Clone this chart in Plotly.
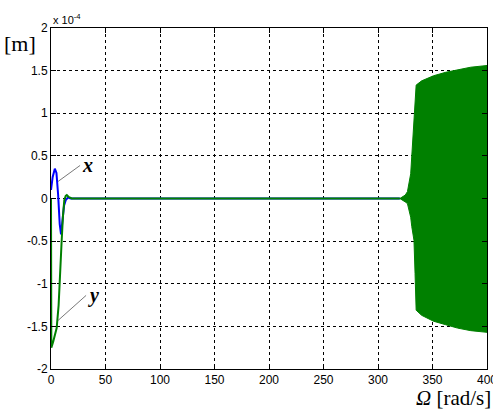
import plotly.graph_objects as go

# values in units of 1e-4 m
omega_x = [0, 1.5, 3.5, 5, 6.5, 8, 9.2, 10.5, 12, 13.5, 15.5, 18, 22, 30, 50, 100, 200, 300, 320]
x_resp = [0.10, 0.25, 0.35, 0.30, 0.05, -0.30, -0.42, -0.25, -0.08, -0.02, 0.01, 0.0, 0.0, 0.0, 0.0, 0.0, 0.0, 0.0, 0.0]

omega_y = [0, 0.3, 2, 4, 5.2, 7, 8.3, 9.8, 11, 12.2, 13.5, 14.5, 16, 19, 25, 50, 100, 200, 300, 320]
y_resp = [0.0, -1.75, -1.68, -1.58, -1.52, -1.25, -0.96, -0.49, -0.2, -0.02, 0.03, 0.04, 0.02, 0.0, 0.0, 0.0, 0.0, 0.0, 0.0, 0.0]

omega_env = [320, 323, 325, 327, 329, 330, 331, 332, 333, 334, 335, 340, 351, 362, 373, 385, 400]
env_upper = [0.0, 0.02, 0.04, 0.08, 0.2, 0.29, 0.5, 0.7, 0.92, 1.15, 1.33, 1.38, 1.44, 1.48, 1.51, 1.54, 1.56]
env_lower = [0.0, -0.02, -0.04, -0.06, -0.15, -0.22, -0.33, -0.42, -0.49, -0.88, -1.31, -1.37, -1.44, -1.48, -1.52, -1.55, -1.57]

x_ticks = [0, 50, 100, 150, 200, 250, 300, 350, 400]
x_tick_text = ["0", "50", "100", "150", "200", "250", "300", "350", ""]
y_ticks = [-2, -1.5, -1, -0.5, 0, 0.5, 1, 1.5, 2]
y_tick_text = ["-2", "-1.5", "-1", "-0.5", "0", "0.5", "1", "1.5", "2"]

green = "#008000"
blue = "#0000FF"
tick_font = dict(family="Arial, Liberation Sans", size=12, color="black")
serif = "Liberation Serif, Times New Roman"

fig = go.Figure()
fig.add_trace(go.Scatter(x=omega_x, y=x_resp, mode="lines", line=dict(color=blue, width=2), showlegend=False))
fig.add_trace(go.Scatter(x=omega_y, y=y_resp, mode="lines", line=dict(color=green, width=2), showlegend=False))
fig.add_trace(go.Scatter(x=omega_env, y=env_lower, mode="lines", line=dict(color=green, width=1), showlegend=False))
fig.add_trace(go.Scatter(x=omega_env, y=env_upper, mode="lines", line=dict(color=green, width=1),
                         fill="tonexty", fillcolor=green, showlegend=False))

axis_common = dict(showline=True, linecolor="black", linewidth=1, mirror="allticks",
                   ticks="inside", ticklen=5, tickcolor="black",
                   showgrid=True, gridcolor="black", gridwidth=1, griddash="3px,3px",
                   zeroline=False, tickfont=tick_font)

fig.update_xaxes(range=[0, 400], tickvals=x_ticks, ticktext=x_tick_text, **axis_common)
fig.update_yaxes(range=[-2, 2], tickvals=y_ticks, ticktext=y_tick_text, **axis_common)

fig.update_layout(
    width=493, height=413,
    margin=dict(l=51, r=6, t=28, b=44),
    plot_bgcolor="white", paper_bgcolor="white",
    annotations=[
        dict(text="[m]", x=-0.07, y=0.955, xref="paper", yref="paper", xanchor="center", yanchor="middle",
             showarrow=False, font=dict(family=serif, size=22, color="black")),
        dict(text="x 10<sup>-4</sup>", x=0.0, y=1.0, xref="paper", yref="paper", xanchor="left", yanchor="bottom",
             showarrow=False, font=dict(family="Arial, Liberation Sans", size=11, color="black")),
        dict(text=str(x_ticks[-1]), x=x_ticks[-1], y=0, xref="x", yref="paper", xanchor="center", yanchor="top",
             yshift=-2, showarrow=False, font=tick_font),
        dict(text="<i>Ω</i> [rad/s]", x=1.0, y=0, xref="paper", yref="paper", xanchor="right", yanchor="top",
             xshift=6, yshift=-15, showarrow=False,
             font=dict(family=serif, size=21, color="black")),
        dict(text="<b><i>x</i></b>", x=6.5, y=0.2, ax=22, ay=-16, xref="x", yref="y", axref="pixel", ayref="pixel",
             showarrow=True, arrowhead=0, arrowwidth=0.8, arrowcolor="#555555", xanchor="left",
             font=dict(family=serif, size=20, color="black")),
        dict(text="<b><i>y</i></b>", x=6.5, y=-1.43, ax=28, ay=-25, xref="x", yref="y", axref="pixel", ayref="pixel",
             showarrow=True, arrowhead=0, arrowwidth=0.8, arrowcolor="#555555", xanchor="left",
             font=dict(family=serif, size=20, color="black")),
    ],
)

fig.write_html("out.html")
